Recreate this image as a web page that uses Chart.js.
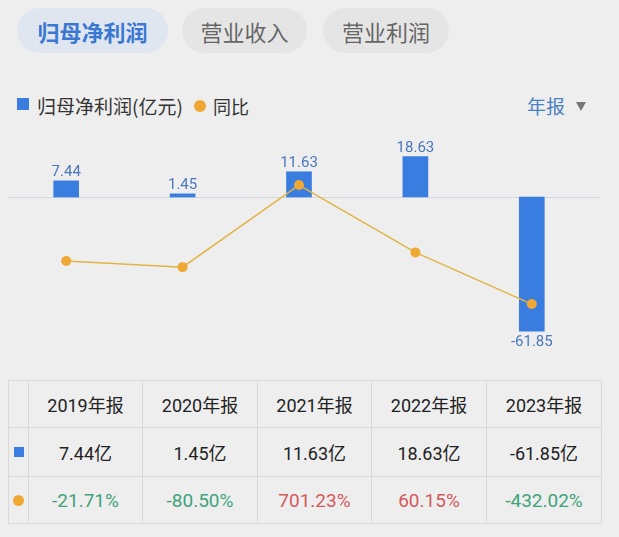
<!DOCTYPE html>
<html><head><meta charset="utf-8">
<script src="https://cdn.jsdelivr.net/npm/chart.js@4"></script>
<style>
html,body{margin:0;padding:0;background:#eeeeee;width:619px;height:537px;overflow:hidden;font-family:"Roboto","Noto Sans CJK SC",sans-serif;}
.abs{position:absolute;}
.pill{position:absolute;top:8px;height:45px;border-radius:23px;display:flex;align-items:center;justify-content:center;font-family:"Noto Sans CJK SC",sans-serif;font-size:22px;}
#chartWrap{position:absolute;left:0;top:120px;width:619px;height:240px;}
table{position:absolute;left:8px;top:380px;border-collapse:collapse;table-layout:fixed;width:593px;}
td{border:1px solid #d9d9d9;text-align:center;padding:0;font-size:18px;color:#222;font-family:"Roboto","Noto Sans CJK SC",sans-serif;}
</style></head>
<body>
<div class="pill" style="left:17px;width:151px;background:#dfe6f0;color:#3b78d2;font-weight:700;">归母净利润</div>
<div class="pill" style="left:182px;width:125px;background:#e5e5e5;color:#666;">营业收入</div>
<div class="pill" style="left:323px;width:126px;background:#e5e5e5;color:#666;">营业利润</div>

<div class="abs" style="left:17px;top:98px;width:12px;height:12px;background:#3a7de0;"></div>
<div class="abs" style="left:37px;top:93px;font-size:19px;line-height:26px;color:#333;font-family:'Noto Sans CJK SC',sans-serif;">归母净利润(亿元)</div>
<div class="abs" style="left:194px;top:100px;width:12px;height:12px;border-radius:6px;background:#f0a835;"></div>
<div class="abs" style="left:213px;top:93px;font-size:18px;line-height:26px;color:#333;font-family:'Noto Sans CJK SC',sans-serif;">同比</div>
<div class="abs" style="left:527px;top:93px;font-size:19px;line-height:26px;color:#4a7fc2;font-family:'Noto Sans CJK SC',sans-serif;">年报</div>
<div class="abs" style="left:576px;top:102px;width:0;height:0;border-left:5px solid transparent;border-right:5px solid transparent;border-top:9px solid #777;"></div>

<div id="chartWrap"><canvas id="c"></canvas></div>
<table id="tbl"></table>

<script>
const categories = ['2019年报','2020年报','2021年报','2022年报','2023年报'];
const profit = [7.44, 1.45, 11.63, 18.63, -61.85];
const yoy = [-21.71, -80.50, 701.23, 60.15, -432.02];

// table
const tbl = document.getElementById('tbl');
const widths = [20,114,115,114,115,115];
let html = '<colgroup>' + widths.map(w=>'<col style="width:'+w+'px">').join('') + '</colgroup>';
html += '<tr style="height:47px"><td></td>' + categories.map(c=>'<td>'+c+'</td>').join('') + '</tr>';
html += '<tr style="height:49px"><td><div style="width:10px;height:10px;background:#3a7de0;margin:0 auto;"></div></td>' +
  profit.map(v=>'<td>'+v.toFixed(2)+'亿</td>').join('') + '</tr>';
html += '<tr style="height:47px"><td><div style="width:11px;height:11px;border-radius:6px;background:#f0a835;margin:0 auto;"></div></td>' +
  yoy.map(v=>'<td style="font-size:19px;color:'+(v<0?'#3fa47a':'#d4595c')+'">'+v.toFixed(2)+'%</td>').join('') + '</tr>';
tbl.innerHTML = html;

const zeroLine = {
  id:'zeroLine',
  beforeDatasetsDraw(chart){
    const y = Math.round(chart.scales.y.getPixelForValue(0)) + 0.5;
    const ctx = chart.ctx;
    ctx.save();
    ctx.strokeStyle = '#d3d8e0';
    ctx.lineWidth = 1;
    ctx.beginPath(); ctx.moveTo(8,y); ctx.lineTo(600,y); ctx.stroke();
    ctx.restore();
  }
};
const barLabels = {
  id:'barLabels',
  afterDatasetsDraw(chart){
    const ctx = chart.ctx;
    const meta = chart.getDatasetMeta(0);
    ctx.save();
    ctx.font = '15px Roboto';
    ctx.fillStyle = '#4a78bc';
    ctx.textAlign = 'center';
    meta.data.forEach((el,i)=>{
      const v = profit[i];
      if (v >= 0) { ctx.textBaseline='bottom'; ctx.fillText(v.toFixed(2), el.x, el.y - 1); }
      else { ctx.textBaseline='top'; ctx.fillText(v.toFixed(2), el.x, el.y + 4); }
    });
    ctx.restore();
  }
};

new Chart(document.getElementById('c'), {
  data:{
    labels: categories,
    datasets:[
      {type:'bar', data: profit, backgroundColor:'#3a7de0', barThickness:25, yAxisID:'y', order:2},
      {type:'line', data: yoy, borderColor:'#e2b444', borderWidth:1.5, tension:0, pointRadius:5,
       pointBackgroundColor:'#f0a835', pointBorderWidth:0, pointHoverRadius:5, yAxisID:'y1', order:1}
    ]
  },
  options:{
    responsive:true, maintainAspectRatio:false, animation:false,
    layout:{padding:{left:8,right:29,top:10,bottom:20}},
    plugins:{legend:{display:false}, tooltip:{enabled:false}},
    scales:{
      x:{display:false},
      y:{display:false, min:-65.9, max:30.88},
      y1:{display:false, min:-774.3, max:1225.7}
    }
  },
  plugins:[zeroLine, barLabels]
});
</script>
</body></html>
